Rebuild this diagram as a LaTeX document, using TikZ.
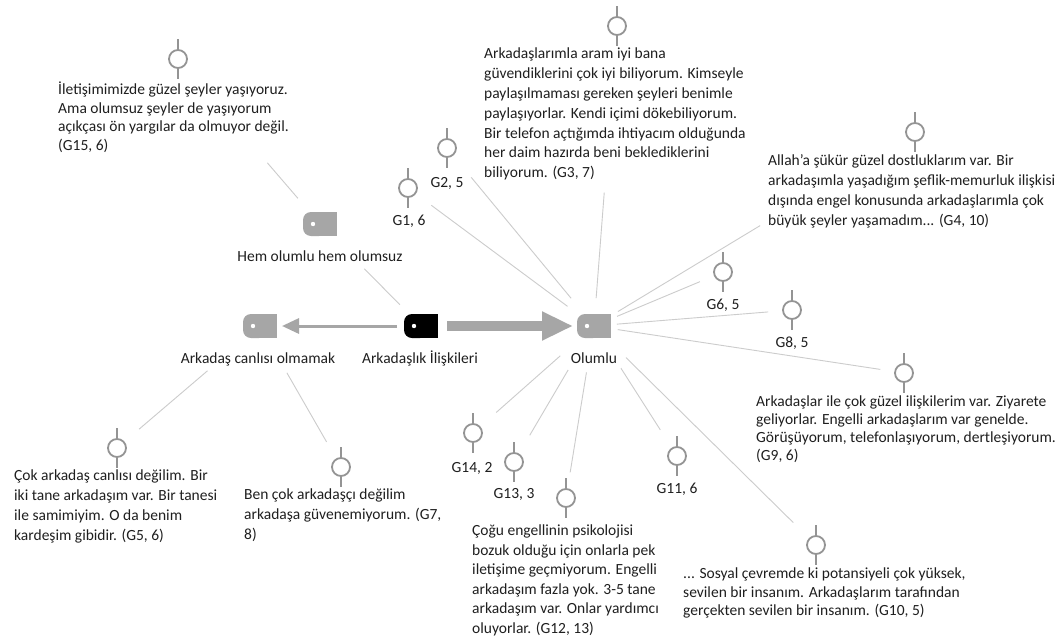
\documentclass[tikz,border=0pt]{standalone}
\usepackage{fontspec}
\setmainfont{Carlito}
\usetikzlibrary{arrows.meta}

\begin{document}
\begin{tikzpicture}[x=1pt,y=-1pt,
    font=\fontsize{15.5pt}{19.5pt}\selectfont,
    spoke/.style={draw=black!20, line width=0.9pt},
    quote/.style={draw=black!42, line width=1.8pt},
    txt/.style={anchor=north west, inner sep=0pt, align=left, text=black!88,
      execute at begin node={\rule{0pt}{14pt}}},
    lbl/.style={anchor=base, inner sep=0pt, text=black!88}]
    \useasboundingbox[fill=white] (0,0) rectangle (1062,643);
    \coordinate (Canli)  at (260,326);
    \coordinate (Iliski) at (421,326);
    \coordinate (Olumlu) at (594,326);
    \coordinate (HemHem) at (320,224);

    \foreach \q/\x/\y in {G1/408/188, G2/447/148, G3/617/26, G4/915/132,
      G5/117/448, G6/723/272, G7/341/467, G8/792/310, G9/904/373,
      G10/816/545, G11/677/456, G12/566/498, G13/514/462, G14/473/433,
      G15/178/59}{% one quote marker per participant
      \coordinate (\q) at (\x,\y);
      \draw[quote] (\q) circle (9);
      \draw[quote] (\q) ++(0,-20) -- ++(0,11) ++(0,18) -- ++(0,11);
    }

    \foreach \t/\c in {Canli/black!35, Iliski/black, Olumlu/black!35,
      HemHem/black!35}{% code tags: round on the left, square on the right
      \fill[\c, rounded corners=8] (\t) ++(-17,-12) rectangle ++(24,24);
      \fill[\c] (\t) ++(-5,-12) rectangle ++(22,24);
      \fill[white] (\t) ++(-7,0) circle (2.2);
    }

    % spokes round Olumlu
    \foreach \q/\a/\b in {G1/33/29, G2/36/38, G3/28/167, G4/28/181,
      G6/25/25, G8/23/24, G9/24/24, G10/45/32, G11/50/31, G12/47/26,
      G13/51/31, G14/45/31}{
      \draw[spoke, shorten <=\a pt, shorten >=\b pt] (Olumlu) -- (\q);
    }
    \draw[spoke, shorten <=137pt, shorten >=34pt] (G15) -- (HemHem);
    \draw[spoke, shorten <=63pt, shorten >=30pt] (HemHem) -- (Iliski);
    \draw[spoke, shorten <=69pt, shorten >=29pt] (Canli) -- (G5);
    \draw[spoke, shorten <=54pt, shorten >=29pt] (Canli) -- (G7);

    \draw[black!35, line width=3pt, -{Triangle[length=17pt,width=15pt]},
      shorten <=24pt, shorten >=22pt] (Iliski) -- (Canli);
    \draw[black!35, line width=10pt, -{Triangle[length=31pt,width=27pt]},
      shorten <=26pt, shorten >=21pt] (Iliski) -- (Olumlu);

    % code labels
    \node[lbl] (LblCanli)  at (258,363) {Arkadaş canlısı olmamak};
    \node[lbl] (LblIliski) at (420,363) {Arkadaşlık İlişkileri};
    \node[lbl] (LblOlumlu) at (594,363) {Olumlu};
    \node[lbl] (LblHemHem) at (320,261) {Hem olumlu hem olumsuz};

    % short quote labels
    \foreach \q/\t/\x/\y in {G1/{G1, 6}/409/225, G2/{G2, 5}/447/187,
      G6/{G6, 5}/723/309, G8/{G8, 5}/792/347, G11/{G11, 6}/677/493,
      G13/{G13, 3}/514/498, G14/{G14, 2}/472/472}{
      \node[lbl] (Lbl\q) at (\x,\y) {\t};
    }

    % quotes
    \node[txt, font=\fontsize{15.5pt}{18.5pt}\selectfont] (TxtG15) at (58,82)
      {İletişimimizde güzel şeyler yaşıyoruz.\\Ama olumsuz şeyler de yaşıyorum\\
       açıkçası ön yargılar da olmuyor değil.\\(G15, 6)};
    \node[txt, font=\fontsize{15.5pt}{19.8pt}\selectfont] (TxtG3) at (484,48)
      {Arkadaşlarımla aram iyi bana\\güvendiklerini çok iyi biliyorum. Kimseyle\\
       paylaşılmaması gereken şeyleri benimle\\paylaşıyorlar. Kendi içimi dökebiliyorum.\\
       Bir telefon açtığımda ihtiyacım olduğunda\\her daim hazırda beni beklediklerini\\
       biliyorum. (G3, 7)};
    \node[txt, font=\fontsize{15.5pt}{20pt}\selectfont] (TxtG4) at (768,154)
      {Allah’a şükür güzel dostluklarım var. Bir\\arkadaşımla yaşadığım şeflik-memurluk ilişkisi\\
       dışında engel konusunda arkadaşlarımla çok\\büyük şeyler yaşamadım... (G4, 10)};
    \node[txt, font=\fontsize{15.5pt}{17.7pt}\selectfont] (TxtG9) at (756,396)
      {Arkadaşlar ile çok güzel ilişkilerim var. Ziyarete\\geliyorlar. Engelli arkadaşlarım var genelde.\\
       Görüşüyorum, telefonlaşıyorum, dertleşiyorum.\\(G9, 6)};
    \node[txt, font=\fontsize{15.5pt}{18.5pt}\selectfont] (TxtG10) at (683,568)
      {... Sosyal çevremde ki potansiyeli çok yüksek,\\sevilen bir insanım. Arkadaşlarım tarafından\\
       gerçekten sevilen bir insanım. (G10, 5)};
    \node[txt, font=\fontsize{15.5pt}{19.5pt}\selectfont] (TxtG12) at (472,525)
      {Çoğu engellinin psikolojisi\\bozuk olduğu için onlarla pek\\iletişime geçmiyorum. Engelli\\
       arkadaşım fazla yok. 3-5 tane\\arkadaşım var. Onlar yardımcı\\oluyorlar. (G12, 13)};
    \node[txt, font=\fontsize{15.5pt}{19.7pt}\selectfont] (TxtG5) at (14,470)
      {Çok arkadaş canlısı değilim. Bir\\iki tane arkadaşım var. Bir tanesi\\
       ile samimiyim. O da benim\\kardeşim gibidir. (G5, 6)};
    \node[txt, font=\fontsize{15.5pt}{20pt}\selectfont] (TxtG7) at (244,489)
      {Ben çok arkadaşçı değilim\\arkadaşa güvenemiyorum. (G7,\\8)};
\end{tikzpicture}
\end{document}
